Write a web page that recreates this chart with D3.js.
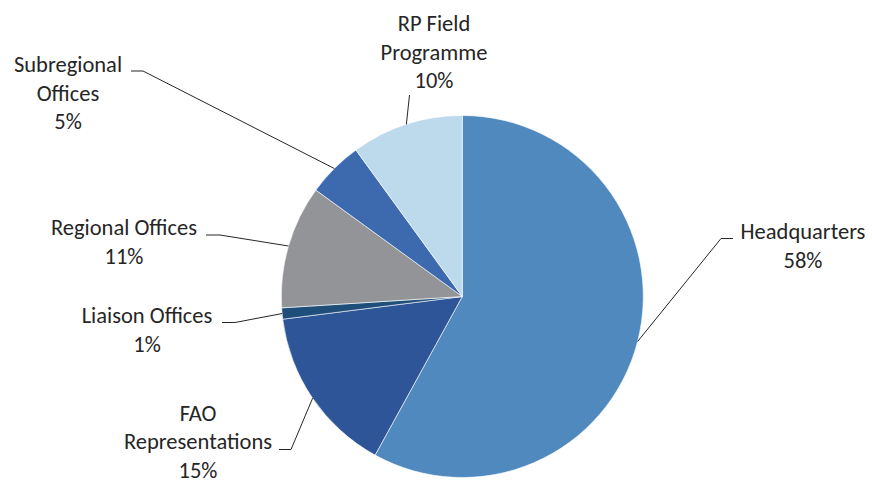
<!DOCTYPE html>
<html>
<head>
<meta charset="utf-8">
<script src="https://cdn.jsdelivr.net/npm/d3@7"></script>
<style>
  html, body { margin: 0; padding: 0; background: #ffffff; }
  svg { display: block; }
</style>
</head>
<body>
<svg id="chart" width="872" height="482"></svg>
<script>
// Budget distribution by location (percent)
const categories = ["Headquarters", "FAO Representations", "Liaison Offices", "Regional Offices", "Subregional Offices", "RP Field Programme"];
const values = [58, 15, 1, 11, 5, 10];
const labelLines = [
  ["Headquarters"],
  ["FAO", "Representations"],
  ["Liaison Offices"],
  ["Regional Offices"],
  ["Subregional", "Offices"],
  ["RP Field", "Programme"]
];
const colors = ["#4f89bd", "#2e5597", "#1f4e7a", "#929497", "#3d69af", "#bdd9ec"];

// Label layout: text centre x, first baseline y, and where the leader's short tick sits
const labelLayout = [
  { x: 803, y: 239, tick: [[733, 238.5], [721, 238.5]] },
  { x: 198, y: 420.5, tick: [[279, 449.5], [291, 449.5]] },
  { x: 147, y: 323, tick: [[222, 322.5], [235, 322.5]] },
  { x: 124, y: 235, tick: [[206, 235], [220, 235]] },
  { x: 68,  y: 72,  tick: [[131, 71], [143, 71]] },
  { x: 434, y: 31,  tick: [[409.5, 95], [409.5, 95]] }
];

const cx = 462.3, cy = 296.5, radius = 181;
const lineHeight = 28.5;
const fontFamily = "Carlito, Lato, 'Open Sans', sans-serif";

const svg = d3.select("#chart");
const g = svg.append("g").attr("transform", `translate(${cx},${cy})`);

const pie = d3.pie().sort(null).value(d => d.value);
const arc = d3.arc().innerRadius(0).outerRadius(radius);

const data = categories.map((c, i) => ({ name: c, value: values[i], i }));
const arcs = pie(data);

g.selectAll("path.slice")
  .data(arcs)
  .join("path")
  .attr("class", "slice")
  .attr("d", arc)
  .attr("fill", d => colors[d.data.i])
  .attr("stroke", "#ffffff")
  .attr("stroke-width", 0.6)
  .attr("stroke-linejoin", "round");

// Leader lines: from the slice edge at its mid angle to the label tick
const leaders = svg.append("g");
arcs.forEach(d => {
  const a = (d.startAngle + d.endAngle) / 2;
  const px = cx + radius * Math.sin(a);
  const py = cy - radius * Math.cos(a);
  const L = labelLayout[d.data.i];
  const pts = [L.tick[0], L.tick[1], [px, py]];
  leaders.append("path")
    .attr("d", d3.line()(pts))
    .attr("fill", "none")
    .attr("stroke", "#262626")
    .attr("stroke-width", 1);
});

// Labels: category name lines followed by the percentage
const labels = svg.append("g")
  .attr("font-family", fontFamily)
  .attr("font-size", 22.5)
  .attr("fill", "#262626")
  .attr("text-anchor", "middle");

arcs.forEach(d => {
  const L = labelLayout[d.data.i];
  const lines = labelLines[d.data.i].concat([d3.format(".0f")(d.data.value) + "%"]);
  const t = labels.append("text").attr("x", L.x).attr("y", L.y);
  lines.forEach((s, k) => {
    t.append("tspan").attr("x", L.x).attr("y", L.y + k * lineHeight).text(s);
  });
});
</script>
</body>
</html>
